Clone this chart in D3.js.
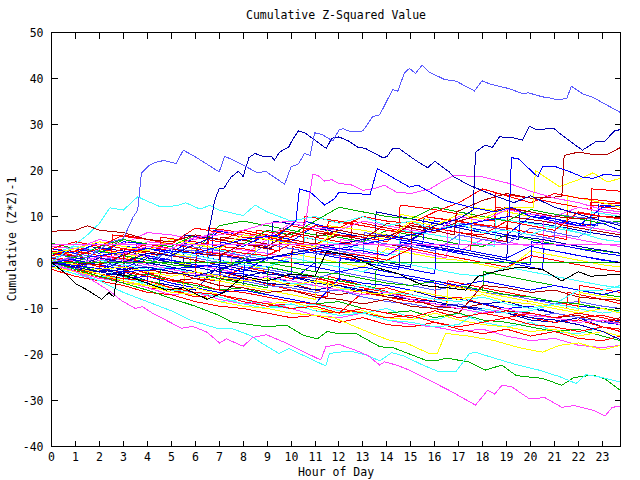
<!DOCTYPE html>
<html><head><meta charset="utf-8">
<script src="https://cdn.jsdelivr.net/npm/d3@7"></script>
<style>
html,body{margin:0;padding:0;background:#fff;}
svg text{font-family:"DejaVu Sans Mono",monospace;font-size:11.5px;fill:#000;}
</style></head><body>
<svg id="chart" width="640" height="480"></svg>
<script>
// ---- Data ----
const title = "Cumulative Z-Squared Value";
const xLabel = "Hour of Day";
const yLabel = "Cumulative (Z*Z)-1";
const xTicks = [0,1,2,3,4,5,6,7,8,9,10,11,12,13,14,15,16,17,18,19,20,21,22,23];
const yTicks = [-40,-30,-20,-10,0,10,20,30,40,50];
const xDomain = [0, 23.75];
const yDomain = [-40, 50];

// featured series: [hour, value] pairs
const lightBlueTop = [[0,0],[0.5,0.6],[1,1.5],[1.5,1],[2,2.8],[2.5,4.5],[3,5.2],[3.4,9.8],[3.6,11.4],[3.75,19.4],[4.1,21.2],[4.3,21.7],[4.7,22.2],[5.2,21.5],[5.5,24.4],[5.9,23.3],[7.0,19.7],[7.23,23.1],[7.6,22.2],[8.1,20.9],[8.6,19.5],[8.95,19.8],[9.73,17.0],[10.0,20.8],[10.3,21.4],[10.56,23.7],[10.8,23.3],[10.98,28.2],[11.3,27.8],[11.74,26.4],[12.0,28.8],[12.16,29.1],[12.5,28.4],[13.0,28.6],[13.4,31.7],[13.7,32.1],[14.24,37.6],[14.45,37.2],[14.73,41.2],[14.94,42.2],[15.19,41.1],[15.47,42.9],[15.77,41.4],[16.4,39.8],[16.9,39.4],[17.65,37.3],[17.97,39.5],[18.3,38.8],[19.1,37.8],[19.66,36.7],[19.9,36.9],[20.5,36.0],[20.8,35.8],[21.05,35.4],[21.5,35.6],[21.7,38.3],[22.16,36.7],[22.6,35.9],[23.75,32.6]];
const darkBlueA = [[0,0],[1,-1],[2,1],[3,0],[4,2],[5,1.5],[6,4],[6.5,5],[6.74,11.4],[6.8,13.3],[7.0,16.1],[7.2,16.2],[7.5,18.6],[7.8,19.8],[8.0,18.7],[8.24,22.8],[8.5,23.7],[8.85,23.0],[9.2,23.0],[9.3,22.2],[9.52,24.0],[9.9,25.1],[10.05,26.6],[10.3,28.6],[10.6,28.1],[11.47,24.8],[11.7,27.0],[12.0,27.3],[12.4,26.4],[12.78,25.1],[13.1,24.8],[13.82,22.8],[14.0,23.0],[14.24,24.8],[14.5,24.8],[15.2,22.2],[15.7,20.6],[16.0,22.0],[16.6,19.7],[16.8,18.6],[17.44,16.8],[18.5,14.5],[19.3,13],[20,14.5],[21,12],[22,10.5],[23,9],[23.75,8]];
const darkBlueB = [[0,0],[2,-2],[4,-1],[6,-3],[8,0],[10,2],[12,4],[14,6],[15,5],[16,8],[17,9.5],[17.6,11.4],[17.7,24.0],[18.1,25.5],[18.4,25.0],[18.7,27.3],[19.2,27.2],[19.66,26.6],[19.94,29.6],[20.2,29.0],[20.5,29.0],[20.98,29.1],[21.3,27.7],[22.16,24.4],[22.7,26.2],[23.1,26.4],[23.5,28.6],[23.75,28.9]];
const blueC = [[0,0],[2,1.5],[4,3],[6,2],[8,5],[9.5,6],[10.2,9],[10.35,16],[10.8,15.3],[11.4,12.5],[11.8,13.8],[12,15.3],[12.5,15],[13.3,14.8],[13.6,20.4],[14.94,16.4],[15.3,16.8],[16.4,13.5],[17.5,12],[18.5,11],[19.2,12],[20,10],[21,9.5],[22,8],[23,8.5],[23.75,7]];
const blueD = [[0,0],[3,-2],[6,-1],[9,1],[12,3],[14,5],[16,7],[18,9],[19.1,10],[19.2,22.8],[19.5,22.5],[20.3,18.6],[20.5,20.9],[21,20.9],[21.6,19.8],[22.2,18.5],[22.6,18.3],[23.1,19.2],[23.75,18.8]];
const magentaUp = [[0,0],[1,1.5],[2,0.5],[3,2],[4,3.5],[5,3],[6,5.5],[7,6],[8,7],[9,8.5],[10,9],[10.6,8.5],[10.9,19.1],[11.1,19.0],[11.4,17.7],[11.7,18.0],[12.0,17.2],[12.5,16.9],[13.0,15.7],[13.5,16.1],[13.9,16.8],[14.4,15.3],[15.0,15.0],[15.8,16.0],[16.4,17.9],[16.85,19.0],[17.3,18.8],[18.0,18.6],[18.6,17.8],[19.1,17.2],[20,15.5],[21,14],[22,13],[23,11.5],[23.75,11]];
const cyanUp = [[0,0],[0.5,2],[1,4],[1.5,6],[2,8.5],[2.44,11.9],[3.0,11.4],[3.6,14.3],[3.8,13.8],[4.5,12.2],[5.2,12.3],[5.6,13.0],[6.2,11.6],[6.6,12.4],[7.0,11.4],[7.5,10.8],[8,10.2],[8.5,12.5],[9,11],[10,9],[11,10],[12,8.5],[13,10],[14,8],[15,9],[16,7],[17,8.5],[18,6.5],[19,7],[20,6],[21,8],[22,6.5],[23,5],[23.75,4.5]];
const magentaLow = [[0,0],[0.5,-1],[1,-2],[1.5,-3.2],[2,-4.8],[2.5,-6.5],[2.9,-8.2],[3.5,-10.0],[3.8,-9.6],[4.24,-11.1],[4.66,-12.2],[5.42,-14.3],[5.9,-13.9],[6.47,-15.1],[7.02,-17.5],[7.3,-16.6],[8.0,-18.2],[8.4,-16.3],[8.97,-15.7],[9.7,-17.3],[10.6,-19.6],[11.24,-21.2],[11.45,-18.3],[12.0,-17.8],[12.7,-19.1],[13.2,-20.2],[13.7,-22.3],[13.9,-21.6],[14.4,-22.3],[14.94,-23.4],[15.77,-25.6],[16.6,-27.8],[17.7,-31.0],[18.2,-27.8],[18.5,-28.6],[18.8,-26.7],[19.2,-27.0],[19.94,-29.6],[20.6,-29.4],[21.3,-31.5],[21.8,-31.1],[22.6,-32.1],[23.1,-33.4],[23.4,-31.5],[23.75,-31.2]];
const cyanLow = [[0,0],[1,-2],[2,-4],[3,-6.5],[4,-8.5],[5,-10.5],[5.77,-12.5],[6.9,-14.3],[7.5,-14.3],[8.27,-15.8],[8.8,-17.6],[9.5,-19.8],[9.9,-18.7],[10.8,-20.9],[11.45,-22.5],[11.6,-19.8],[12.0,-19.5],[12.5,-19.3],[13.2,-20.2],[13.7,-21.4],[14.2,-19.6],[14.7,-20.3],[15.5,-22.3],[16.2,-23.8],[16.9,-23.6],[17.44,-19.8],[17.7,-19.5],[18.55,-20.9],[19.4,-22.2],[20.35,-23.4],[21.2,-24.8],[21.9,-26.3],[22.3,-24.4],[22.8,-24.8],[23.75,-26.0]];
const greenLow = [[0,0],[1,-1.5],[2,-3],[3,-4.5],[4,-6],[5,-7.8],[6,-9.5],[7,-11.5],[7.5,-12.9],[8.3,-13.5],[9,-14],[9.8,-13.6],[10.5,-15.8],[11.1,-16.6],[11.5,-15.0],[12.0,-15.5],[12.7,-15.4],[13.7,-18.3],[14.3,-18.6],[15.6,-21.2],[16.1,-21.3],[16.5,-20.8],[17.4,-21.6],[18.1,-23.4],[18.8,-22.3],[19.4,-24.6],[20.5,-25.2],[21.3,-26.7],[21.8,-25.0],[22.6,-24.5],[23.1,-25.3],[23.75,-27.8]];
const yellowLow = [[0,0],[1,-1],[2,-2.5],[3,-4],[4,-5],[5,-6.5],[6,-7],[7,-8.5],[8,-9.5],[9,-10],[10,-11],[11,-11.5],[11.8,-12],[12.7,-14.0],[13.4,-15.5],[14.1,-16.9],[14.8,-17.5],[15.77,-19.8],[16.1,-19.8],[16.45,-15.4],[17.4,-16.0],[18.5,-17],[19.5,-18.5],[20.5,-19.5],[21.2,-18],[22,-17.5],[23,-19],[23.75,-18]];
const blackA = [[0,0],[0.5,-2],[1,-4.6],[1.5,-6.0],[2.1,-8.0],[2.4,-6.5],[2.6,-7.5],[2.75,-2.5],[3.2,-3],[4,-4.5],[4.8,-6],[5.5,-5.5],[6.5,-8],[7.2,-6.5],[8,-3],[9,-4],[10,-2.5],[11,-3],[11.5,2.5],[12.5,1.5],[13.5,-1],[14.5,-2.5],[15.5,-5],[16.5,-5.5],[17.3,-6],[17.8,-3],[18.5,-2],[19.5,-1],[20.5,-1.5],[21.3,-4],[22,-2],[22.5,-3],[23.75,-2.5]];
const darkRedUp = [[0,6.8],[1,7],[1.5,8],[2,7],[3,6.5],[4,5],[5,4.5],[6,6],[7,5],[8,4],[9,3.5],[10,6.5],[11,5.5],[12,7],[13,6],[14,5.5],[15,8],[16,7],[16.8,6],[16.9,11],[18,13.5],[19,15],[20,14],[21.3,14.3],[21.4,23.3],[22,24],[22.6,23.5],[23.2,23.5],[23.75,25]];
const yellowUp = [[0,2],[1,3],[2,4.5],[3,3.5],[4,2.5],[5,5],[6,4],[7,3],[8,6],[9,5],[10,4],[11,3.5],[12,7],[13,6],[14,5],[15,9],[16,8],[17,10.5],[18,9.5],[19,12],[20.1,12],[20.2,20],[21.2,16.5],[22,18],[22.6,19.5],[23.2,17.5],[23.75,18.3]];
const flatGreen = [[0,0],[23.75,0]];
const flatMagenta = [[0,4],[23.75,4]];

// bundle series with jumps: [hour, value] pairs
const jR1 = [[0,1],[1.2,-0.5],[1.25,3],[3,1.5],[3.5,0.5],[3.55,4],[5,2.5],[6.5,1],[6.55,5.5],[8,4],[9.5,2.5],[9.55,7],[11,5.5],[12.5,4],[12.55,9],[14,7.5],[15.5,6],[15.55,10],[17.5,8.5],[19,7],[19.05,11.5],[21,9.5],[22.5,8],[22.55,12.5],[23.75,11.5]];
const jB1 = [[0,0],[1,-1.2],[2,-2.5],[2.05,1],[3.5,-0.5],[5,-2],[6,-3],[6.05,1.5],[7.5,0],[9,-1.5],[10,-2.5],[10.05,3],[11.5,1.5],[13,0],[14.5,-1.5],[14.55,4.5],[16,3],[17.5,1.5],[19,0],[20.5,-1.5],[20.55,3],[22,1.5],[23.75,0]];
const jR2 = [[0,-0.5],[1.5,-2.5],[3,-4.5],[3.05,-1],[4.5,-3],[6,-5],[7,-6],[7.05,-2],[8.5,-4],[10,-6],[11.5,-7.5],[11.55,-3],[13,-5],[14.5,-7],[16,-8.5],[16.05,-4],[17.5,-6],[19,-7.5],[20.5,-9],[21.5,-10],[21.55,-6.5],[23,-8],[23.75,-9]];
const jDB1 = [[0,1],[1.5,-0.5],[1.55,3.5],[3,2.5],[4.5,1],[5.5,0],[5.55,6],[7,5],[8.5,3.5],[9.2,3],[9.25,9],[10.5,8],[12,6.5],[13.5,5],[13.55,11],[15,9.5],[16.5,8],[18,6.5],[19.5,5],[19.55,9],[21,8],[22.5,6.5],[23.75,5.5]];
const jR3 = [[0,1],[1,2],[2,1],[3,3],[4,2],[4.5,1.5],[4.55,5.5],[6,4.5],[7,3.5],[8,3],[8.5,2.5],[8.55,7],[10,6],[11,5],[11.5,4.5],[11.55,9],[13,8],[14,7],[15,6.5],[15.5,6],[15.55,10],[17,9],[18,8],[18.5,7.5],[18.55,12],[20,11],[21,10],[22,9.5],[22.5,9],[22.55,13],[23.75,12.8]];
const jB2 = [[0,1.5],[1,3],[2,2],[3,4.5],[4,4],[5,3],[6,2],[6.7,1.5],[6.75,7],[8,6],[9,5],[10,4.5],[10.5,4],[10.55,9],[12,7],[13,6],[14,5.5],[15,4.5],[15.5,4],[15.55,9.5],[17,8],[18,7],[19,6],[19.5,5.5],[19.55,11],[21,9.5],[22,8.5],[22.8,8],[22.85,12.5],[23.75,12.4]];
const jY1 = [[0,0.5],[1,-0.5],[2,-1.5],[2.05,2.5],[3.5,1.5],[5,0],[5.8,-0.5],[5.85,4],[7,3],[8.5,1.5],[8.55,6],[10,5],[11.5,3.5],[11.55,8],[13,7],[14.5,5.5],[14.55,10.5],[16,9],[17.5,7.5],[17.55,12],[19,11],[20.5,9.5],[21.5,8.5],[21.55,14.5],[23,13],[23.75,12]];
const jC1 = [[0,-0.5],[1.5,-2],[2.5,-3],[2.55,1],[4,0],[5.5,-1.5],[6.5,-2.5],[6.55,3],[8,2],[9.5,0.5],[10.5,-0.5],[10.55,5.5],[12,4],[13.5,2.5],[14.5,1.5],[14.55,7],[16,6],[17.5,4.5],[18.5,3.5],[18.55,9.5],[20,8.5],[21.5,7],[22.5,6],[22.55,11],[23.75,10]];
const jM1 = [[0,1],[1.5,0],[3,-1.5],[3.05,2],[4.5,1],[6,-0.5],[7.5,-2],[7.55,3],[9,2],[10.5,0.5],[12,-1],[12.05,5],[13.5,4],[15,2.5],[16.5,1],[16.55,7],[18,5.5],[19.5,4],[20.5,3],[20.55,9],[22,8],[23.75,6.5]];
const jR4 = [[0,0],[1,-1],[2,-2],[2.05,1.5],[3.5,0.5],[5,-1],[6,-2],[6.05,2.5],[7.5,1.5],[9,0],[10,-1],[10.05,3.5],[11.5,2],[13,0.5],[13.6,0],[13.65,6],[15,5],[16.5,3.5],[17.5,2.5],[17.55,8.5],[19,7.5],[20.5,6],[21.5,5],[21.55,11],[23,10],[23.75,9.5]];
const jDR1 = [[0,2],[1.5,1],[3,-0.5],[3.05,3],[4.5,2],[6,0.5],[7,-0.5],[7.05,5.5],[8.5,4.5],[10,3],[11,2],[11.05,6.5],[12.5,5.5],[14,4],[15,3],[15.05,8],[16.5,7],[18,5.5],[19,4.5],[19.05,10],[20.5,9],[22,7.5],[23.75,6]];
const jB3 = [[0,-1],[1.5,-2.5],[3,-4],[4,-5],[4.05,-1],[5.5,-2.5],[7,-4],[8,-5],[8.05,0],[9.5,-1.5],[11,-3],[12,-4],[12.05,1],[13.5,0],[15,-1.5],[16,-2.5],[16.05,3],[17.5,2],[19,0.5],[20,-0.5],[20.05,4.5],[21.5,3.5],[23,2],[23.75,1.5]];
const jR5 = [[0,-1],[1.5,-2.5],[3,-4],[4.5,-5.5],[5.5,-6.5],[5.55,-2.5],[7,-4],[8.5,-5.5],[10,-7],[11,-8],[11.05,-3.5],[12.5,-5],[14,-6.5],[15.5,-8],[16.5,-9],[16.55,-4],[18,-5.5],[19.5,-7],[21,-8.5],[22,-9.5],[22.05,-5],[23.75,-6.5]];
const jG1 = [[0,0],[1.5,-1.5],[3,-3],[4.5,-4.5],[4.55,-1],[6,-2.5],[7.5,-4],[9,-5.5],[9.05,-1],[10.5,-2.5],[12,-4],[13.5,-5.5],[13.55,-1.5],[15,-3],[16.5,-4.5],[18,-6],[18.05,-2],[19.5,-3.5],[21,-5],[22.5,-6.5],[23.75,-7.5]];
const jLB1 = [[0,0.5],[1,-0.5],[1.05,3],[2.5,2],[4,0.5],[5,-0.5],[5.05,4],[6.5,3],[8,1.5],[9,0.5],[9.05,5],[10.5,4],[12,2.5],[13,1.5],[13.05,6.5],[14.5,5.5],[16,4],[17,3],[17.05,8.5],[18.5,7.5],[20,6],[21,5],[21.05,10.5],[22.5,9.5],[23.75,8.5]];
const jDB2 = [[0,0],[1,-1],[2,-2],[3,-3],[3.05,0.5],[4.5,-0.5],[6,-2],[7,-3],[7.05,1.5],[8.5,0.5],[10,-1],[11,-2],[11.05,2.5],[12.5,1.5],[14,0],[15,-1],[15.05,4],[16.5,3],[18,1.5],[19,0.5],[19.05,6],[20.5,5],[22,3.5],[23.75,2]];
const jR6 = [[0,3],[1.5,2],[2.5,1],[2.55,6],[4,5],[5.5,3.5],[6.5,2.5],[6.55,7.5],[8,6.5],[9.5,5],[10.5,4],[10.55,10],[12,9],[13.5,7.5],[14.5,6.5],[14.55,12.5],[16,11.5],[17.5,10],[18.5,9],[18.55,15],[20,14],[21.5,12.5],[22.5,11.5],[22.55,16],[23.75,15.5]];
const jY2 = [[0,-0.5],[1.5,-2],[3,-3.5],[4.5,-5],[5.5,-6],[5.55,-2.5],[7,-4],[8.5,-5.5],[10,-7],[11,-8],[11.05,-4],[12.5,-5.5],[14,-7],[15.5,-8.5],[16.5,-9.5],[16.55,-5],[18,-6.5],[19.5,-8],[21,-9.5],[22,-10.5],[22.05,-6.5],[23.75,-8]];

// bundle series, hourly values at bundleHours
const bundleHours = [0,1,2,3,4,5,6,7,8,9,10,11,12,13,14,15,16,17,18,19,20,21,22,23,23.75];
const bR1 = [1,0.5,-1,-0.5,-2.5,-2,-3.5,-4,-1,-2,-3.5,-3,-5,-6,-5.5,-7,-8,-7.5,-9,-10,-9.5,-11,-12,-11.5,-12.5];
const bR2 = [3,4.5,3.5,6,5,4,7.5,6.5,5.5,5,8,7,6,5.5,4.5,8.5,7.5,6.5,6,9,8,7,11,10,9.5];
const bG1 = [4.2,3,2,5,4,3,2.5,8,9,8,7,6,5.5,4.5,7,6,5,4,3.5,6,5,4,3,2.5,2];
const bB1 = [0,-1.5,-2,2,1,0.5,-1,-2,-2.5,-3.5,-4,0,-1,-2,-3,-3.5,-4.5,-5.5,-6,-7,-8,-8.5,-9.5,-10,-10.5];
const bM1 = [2,1.5,3,2,4.5,4,3,2,1.5,5,4.5,3.5,3,2,1.5,4,3.5,2.5,5,4.5,3.5,6,5,4,3.5];
const bC1 = [-1,-2.5,-4,-3,-5,-6.5,-7,-8.5,-8,-9.5,-10,-9,-10.5,-11,-10,-12,-12.5,-11,-13,-14,-13,-15,-15.5,-14,-15];
const bY1 = [1,2.5,1.5,0.5,3,2,1,0,-0.5,-1.5,2,1,0,-1,3,2,1,0.5,-0.5,-1.5,2.5,1.5,0.5,-0.5,-1];
const bDB1 = [-0.5,-2,-3,-2,-4,-5,-6,-0.5,-1.5,-2.5,-3,-4.5,-5,-6.5,-7,-8,-9,-9.5,-10.5,-11,-12.5,-13,-12,-14,-14.5];
const bLB1 = [0.5,1,0,-1,-2,1.5,1,0,-1,-1.5,-2.5,-3.5,-2,-3,-4,-5,-6,-5,-6.5,-7,-8,-9,-8.5,-9.5,-10];
const bR3 = [-1,-2,-3.5,-4,-5.5,-6,-7.5,-7,-8.5,-9.5,-9,-10.5,-11,-6.5,-7.5,-8.5,-9,-10,-11,-10.5,-12,-13,-12.5,-14,-14.5];
const bG2 = [0.5,-0.5,-2,-3,-2.5,-4,-5,-6,-5.5,-7,-8,-9,-8.5,-10,-11,-10.5,-12,-11,-12.5,-13,-14,-15,-14.5,-16,-17];
const bB2 = [1.5,3,2,4.5,4,3,2,7,6,5,4.5,8,7,6,5.5,4.5,9,8,7,6,10,9,8,12,12.4];
const bDR1 = [0,-1,0.5,-0.5,-1.5,-2.5,-2,-3.5,-4,-5,-4.5,-6,-7,-6,-7.5,-8,-9.5,-10,-9,-10.5,-11,-12,-11.5,-13,-12];
const bM2 = [-0.5,-2,-3.5,-4,-5.5,-7,-6.5,-8,-9,-8.5,-10,-11.5,-12,-11,-12.5,-13.5,-14,-15,-14.5,-16,-17,-16.5,-18,-18.5,-18];
const bC2 = [2,3.5,2.5,1.5,0.5,2.5,1.5,0.5,-0.5,-1,1,0,-1,-2,0.5,-0.5,-1.5,-2.5,-3,-1,-2,-3,-4,-5,-5.5];
const bB3 = [0,-1,-2.5,-3.5,-3,-4.5,-5.5,-6.5,-6,-7,-8,-9,-3.5,-4.5,-5,-6,-7.5,-8,-9,-10,-9.5,-11,-12,-13,-13.5];
const bY2 = [-1,-2,-3,-4.5,-5,-6,-5.5,-7,-8,-9,-8.5,-10,-11,-10.5,-12,-12.5,-11,-12.5,-13.5,-14,-15,-14.5,-16,-15,-16];
const bG3 = [1,0,2.5,1.5,0.5,-0.5,-1,-2,1,0,-1,-2,-2.5,-3.5,-4.5,-5,-4,-5,-6,-7,-7.5,-8.5,-9,-10,-10.5];
const bDB2 = [0.5,-0.5,-1.5,-2.5,1,0,-1,-2,-3,-2,-3,-4,-5,-6,-7,-6,-7.5,-8,-9,-8.5,-10,-11,-12,-13,-12.5];
const bLB2 = [-0.5,-1.5,0.5,0,-1,-2,-3,-2.5,-4,-5,-5.5,-6.5,-6,-7.5,-8.5,-9,-10,-9,-10.5,-11,-12,-11,-12,-13,-13];
const bR6 = [-1.5,-3,-4,-5,-6.5,-7,-8.5,-9.5,-10,-11,-12,-11.5,-13,-12,-13.5,-14,-13,-14.5,-15.5,-14.5,-16,-15,-16.5,-17,-16];
const bM3 = [3.5,3,5,4,6.5,6,5,7,6,5.5,8.5,7.5,7,9,8,7,6.5,10,9,11.5,10.5,10,12,11,10.5];
const bC3 = [0,1.5,0.5,-0.5,-1.5,-1,-2.5,-3,-4,-3,-4.5,-5,-6,-5,-6.5,-7,-8,-8.5,-7.5,-9,-10,-9,-10,-11,-10.5];
const bDR2 = [-0.5,-1,-2,-1.5,-3,-4,-3.5,-5,-5.5,-6.5,-6,-7.5,-8,-9,-8,-9.5,-10,-11,-5,-5.5,-6.5,-6,-7.5,-8,-8.2];
const bB4 = [-1,0.5,-0.5,-1.5,1.5,0.5,-0.5,-1,-2,1,0,-1,-2,-1,-2,-3,-4,-5,-4,-5,-6,-5,-6,-7,-6];
const bG4 = [2,1,3.5,5,4,3.5,6,5,4,7,6,9,12,11,10,9.5,12,11,10,9,11.5,10.5,9.5,8.5,9];
const bR7 = [0.5,-0.5,-1.5,-2,-3,-4,-4.5,-6,-6.5,-7.5,-8.5,-9,-10,-11,-12,-11.5,-13,-14,-13,-12,-13.5,-14,-15,-14,-15];
const bLB3 = [1,2,1,0.5,-0.5,3,2.5,1.5,0.5,4,3,2,1.5,5,4,3.5,2.5,6,5,4,7.5,6.5,5.5,9,8.5];
const bDB3 = [-0.5,-1.5,-2,0.5,0,-1,-2,-3,-3.5,-4.5,-5,-6,-5,-6,-7,-8,-8.5,-9.5,-10,-11,-12,-12.5,-13.5,-15,-16.8];
const bR8 = [1.5,2.5,4,3,2.5,5,4,3,2,1.5,4,3,2,1.5,0.5,3,2,1,0,-1,1.5,0.5,-0.5,-1.5,-2];
const bC4 = [-0.5,-1.5,-3,-3.5,-4.5,-6,-6.5,-7.5,-9,-10,-9,-10.5,-11.5,-11,-12.5,-13,-14,-13.5,-10,-11,-10.5,-9,-6,-6,-5];
const bM4 = [0,-1,1.5,0.5,-0.5,-1.5,-2.5,-3,-4,-3,-4,-5,-6,-7,-6.5,-8,-9,-10,-11,-10,-11.5,-12,-13,-12.5,-13.5];
const bY3 = [0.5,-0.5,-1.5,-1,-2,-3,-2,-3,-4,-3.5,-5,-4,-5.5,-6.5,-7,-6,-7,-8,-7,-8.5,-9,-10,-11,-10,-11];
const bB5 = [3,2,4.5,3.5,3,2,5.5,4.5,3.5,6,5,4,3,2.5,1.5,5,4,3,2,1,3.5,2.5,1.5,0.5,0];
const bR9 = [0,-1.5,-2.5,-3.5,-4,-5.5,-6.5,-7,-8,-9,-10,-9.5,-11,-10,-11,-12,-10.5,-12,-11,-12,-11,-12,-11,-12,-13];
const bR10 = [2.5,1.5,3,2,4,3,5.5,4.5,7,6,5.5,8,7.5,10,9,8.5,11,13,16,14.5,13,15,14,13.5,13];
const bDR3 = [1,0,-0.5,1.5,3.5,3,2,1.5,4,3,5,4,6,5,8.5,7.5,6.5,9,10.5,12,11,10,9.5,10,9.8];

const C = {red:"#ff0000", darkRed:"#b00000", green:"#00b000", blue:"#0000ff", darkBlue:"#0000b4", lightBlue:"#5a5aff", magenta:"#ff40ff", cyan:"#40ffff", yellow:"#ffff00", black:"#000000"};

const hourly = [
  [bR1,C.red],[bC1,C.cyan],[bG1,C.green],[bB1,C.blue],[bM1,C.magenta],[bY1,C.yellow],[bDB1,C.darkBlue],
  [bLB1,C.lightBlue],[bR3,C.red],[bG2,C.green],[bB2,C.blue],[bDR1,C.darkRed],[bM2,C.magenta],[bC2,C.cyan],
  [bB3,C.blue],[bY2,C.yellow],[bG3,C.green],[bDB2,C.darkBlue],[bLB2,C.lightBlue],
  [bR6,C.red],[bM3,C.magenta],[bC3,C.cyan],[bDR2,C.darkRed],[bB4,C.blue],[bG4,C.green],[bR7,C.red],
  [bLB3,C.lightBlue],[bDB3,C.darkBlue],[bR8,C.red],[bC4,C.cyan],[bM4,C.magenta],[bY3,C.yellow],[bB5,C.blue],
  [bR9,C.red],[bR10,C.red],[bDR3,C.darkRed],[bR2,C.red]
];
const jumpy = [
  [jR1,C.red],[jB1,C.blue],[jR2,C.red],[jDB1,C.darkBlue],[jR3,C.red],[jB2,C.blue],[jY1,C.yellow],[jC1,C.cyan],
  [jM1,C.magenta],[jR4,C.red],[jDR1,C.darkRed],[jB3,C.blue],[jR5,C.red],[jG1,C.green],[jLB1,C.lightBlue],
  [jDB2,C.darkBlue],[jR6,C.red],[jY2,C.yellow]
];
const featured = [
  [yellowLow,C.yellow],[greenLow,C.green],[cyanLow,C.cyan],[magentaLow,C.magenta],[blackA,C.black],
  [cyanUp,C.cyan],[yellowUp,C.yellow],[darkRedUp,C.darkRed],[magentaUp,C.magenta],[blueC,C.blue],[blueD,C.blue],
  [darkBlueA,C.darkBlue],[darkBlueB,C.darkBlue],[lightBlueTop,C.lightBlue],[flatMagenta,C.magenta],[flatGreen,C.green]
];

// ---- Layout ----
const svg = d3.select("#chart");
const m = {left:51.5, top:32.5};
const W = 569, H = 414;
const x = d3.scaleLinear().domain(xDomain).range([0, W]);
const y = d3.scaleLinear().domain(yDomain).range([H, 0]);
const g = svg.append("g").attr("transform", `translate(${m.left},${m.top})`);

g.append("clipPath").attr("id","clip").append("rect").attr("x",0).attr("y",0).attr("width",W).attr("height",H);
const plot = g.append("g").attr("clip-path","url(#clip)");
const line = d3.line().x(d => x(d[0])).y(d => y(d[1]));
function draw(pts, col) {
  plot.append("path").attr("d", line(pts)).attr("fill","none").attr("stroke",col)
    .attr("stroke-width",1).attr("shape-rendering","crispEdges");
}
// interleave the two bundle groups so colours mix in drawing order
const nMax = Math.max(hourly.length, jumpy.length);
for (let i = 0; i < nMax; i++) {
  if (i < hourly.length) draw(hourly[i][0].map((v,k) => [bundleHours[k], v]), hourly[i][1]);
  if (i < jumpy.length) draw(jumpy[i][0], jumpy[i][1]);
}
featured.forEach(([pts,col]) => draw(pts, col));

// frame and ticks
const tl = 6;
g.append("rect").attr("x",0).attr("y",0).attr("width",W).attr("height",H).attr("fill","none").attr("stroke","#000").attr("stroke-width",1).attr("shape-rendering","crispEdges");
xTicks.forEach(t => {
  const px = Math.round(x(t));
  g.append("line").attr("x1",px).attr("x2",px).attr("y1",H).attr("y2",H-tl).attr("stroke","#000").attr("shape-rendering","crispEdges");
  g.append("line").attr("x1",px).attr("x2",px).attr("y1",0).attr("y2",tl).attr("stroke","#000").attr("shape-rendering","crispEdges");
  g.append("text").attr("x",px).attr("y",H+14).attr("text-anchor","middle").text(t);
});
yTicks.forEach(t => {
  const py = Math.round(y(t));
  g.append("line").attr("x1",0).attr("x2",tl).attr("y1",py).attr("y2",py).attr("stroke","#000").attr("shape-rendering","crispEdges");
  g.append("line").attr("x1",W).attr("x2",W-tl).attr("y1",py).attr("y2",py).attr("stroke","#000").attr("shape-rendering","crispEdges");
  g.append("text").attr("x",-8).attr("y",py+4).attr("text-anchor","end").text(t);
});

svg.append("text").attr("x",336).attr("y",19).attr("text-anchor","middle").text(title);
svg.append("text").attr("x",336).attr("y",476).attr("text-anchor","middle").text(xLabel);
svg.append("text").attr("transform","translate(15.5,239) rotate(-90)").attr("text-anchor","middle").text(yLabel);
</script></body></html>
